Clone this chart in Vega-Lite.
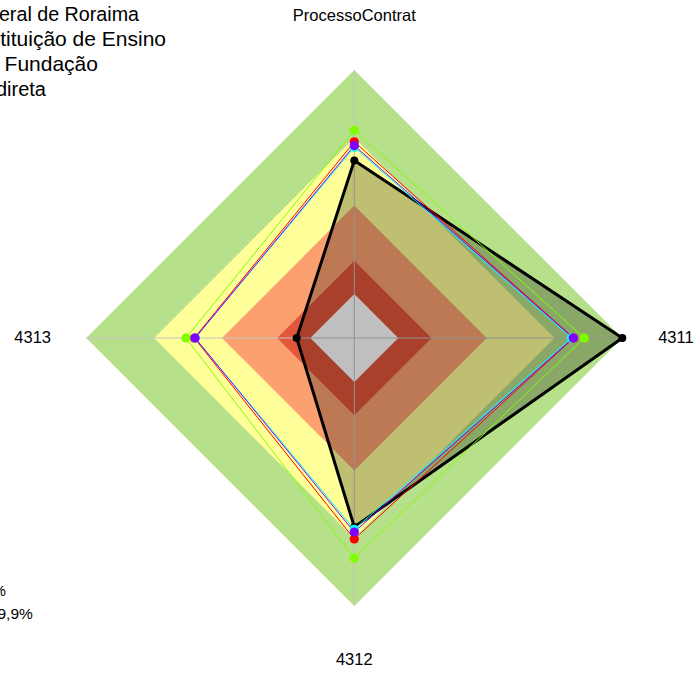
{
  "$schema": "https://vega.github.io/schema/vega-lite/v6.json",
  "width": 696,
  "height": 673,
  "autosize": {"type": "none"},
  "padding": 0,
  "background": "white",
  "config": {"view": {"stroke": null}, "font": "Liberation Sans"},
  "data": {
    "values": [
      {"grupo": "faixa", "nome": "f1", "eixo": "ProcessoContrat", "valor": 1.0},
      {"grupo": "faixa", "nome": "f1", "eixo": "4311", "valor": 1.0},
      {"grupo": "faixa", "nome": "f1", "eixo": "4312", "valor": 1.0},
      {"grupo": "faixa", "nome": "f1", "eixo": "4313", "valor": 1.0},
      {"grupo": "faixa", "nome": "f2", "eixo": "ProcessoContrat", "valor": 0.747},
      {"grupo": "faixa", "nome": "f2", "eixo": "4311", "valor": 0.747},
      {"grupo": "faixa", "nome": "f2", "eixo": "4312", "valor": 0.747},
      {"grupo": "faixa", "nome": "f2", "eixo": "4313", "valor": 0.747},
      {"grupo": "faixa", "nome": "f3", "eixo": "ProcessoContrat", "valor": 0.494},
      {"grupo": "faixa", "nome": "f3", "eixo": "4311", "valor": 0.494},
      {"grupo": "faixa", "nome": "f3", "eixo": "4312", "valor": 0.494},
      {"grupo": "faixa", "nome": "f3", "eixo": "4313", "valor": 0.494},
      {"grupo": "faixa", "nome": "f4", "eixo": "ProcessoContrat", "valor": 0.288},
      {"grupo": "faixa", "nome": "f4", "eixo": "4311", "valor": 0.288},
      {"grupo": "faixa", "nome": "f4", "eixo": "4312", "valor": 0.288},
      {"grupo": "faixa", "nome": "f4", "eixo": "4313", "valor": 0.288},
      {"grupo": "faixa", "nome": "f5", "eixo": "ProcessoContrat", "valor": 0.164},
      {"grupo": "faixa", "nome": "f5", "eixo": "4311", "valor": 0.164},
      {"grupo": "faixa", "nome": "f5", "eixo": "4312", "valor": 0.164},
      {"grupo": "faixa", "nome": "f5", "eixo": "4313", "valor": 0.164},
      {"grupo": "serie", "nome": "IFRR", "eixo": "ProcessoContrat", "valor": 0.662},
      {"grupo": "serie", "nome": "IFRR", "eixo": "4311", "valor": 1.0},
      {"grupo": "serie", "nome": "IFRR", "eixo": "4312", "valor": 0.705},
      {"grupo": "serie", "nome": "IFRR", "eixo": "4313", "valor": 0.215},
      {"grupo": "serie", "nome": "Ensino", "eixo": "ProcessoContrat", "valor": 0.732},
      {"grupo": "serie", "nome": "Ensino", "eixo": "4311", "valor": 0.818},
      {"grupo": "serie", "nome": "Ensino", "eixo": "4312", "valor": 0.75},
      {"grupo": "serie", "nome": "Ensino", "eixo": "4313", "valor": 0.597},
      {"grupo": "serie", "nome": "Fundação", "eixo": "ProcessoContrat", "valor": 0.775},
      {"grupo": "serie", "nome": "Fundação", "eixo": "4311", "valor": 0.858},
      {"grupo": "serie", "nome": "Fundação", "eixo": "4312", "valor": 0.821},
      {"grupo": "serie", "nome": "Fundação", "eixo": "4313", "valor": 0.628},
      {"grupo": "serie", "nome": "Indireta", "eixo": "ProcessoContrat", "valor": 0.712},
      {"grupo": "serie", "nome": "Indireta", "eixo": "4311", "valor": 0.81},
      {"grupo": "serie", "nome": "Indireta", "eixo": "4312", "valor": 0.714},
      {"grupo": "serie", "nome": "Indireta", "eixo": "4313", "valor": 0.594},
      {"grupo": "serie", "nome": "Geral", "eixo": "ProcessoContrat", "valor": 0.718},
      {"grupo": "serie", "nome": "Geral", "eixo": "4311", "valor": 0.817},
      {"grupo": "serie", "nome": "Geral", "eixo": "4312", "valor": 0.724},
      {"grupo": "serie", "nome": "Geral", "eixo": "4313", "valor": 0.594}
    ]
  },
  "transform": [
    {"calculate": "datum.eixo === '4311' ? datum.valor : (datum.eixo === '4313' ? -datum.valor : 0)", "as": "x"},
    {"calculate": "datum.eixo === 'ProcessoContrat' ? datum.valor : (datum.eixo === '4312' ? -datum.valor : 0)", "as": "y"},
    {"calculate": "indexof(['ProcessoContrat','4311','4312','4313'], datum.eixo)", "as": "ordem"}
  ],
  "encoding": {
    "x": {"field": "x", "type": "quantitative", "scale": {"domain": [-1.32201, 1.275], "nice": false, "zero": false}, "axis": null},
    "y": {"field": "y", "type": "quantitative", "scale": {"domain": [-1.25, 1.26119], "nice": false, "zero": false}, "axis": null}
  },
  "layer": [
    {
      "transform": [{"filter": "datum.nome === 'f1'"}],
      "mark": {"type": "line", "interpolate": "linear-closed", "filled": true, "fill": "#B7E08B", "fillOpacity": 1, "strokeWidth": 0},
      "encoding": {"order": {"field": "ordem", "type": "quantitative"}}
    },
    {
      "transform": [{"filter": "datum.nome === 'f2'"}],
      "mark": {"type": "line", "interpolate": "linear-closed", "filled": true, "fill": "#FFFF99", "fillOpacity": 1, "strokeWidth": 0},
      "encoding": {"order": {"field": "ordem", "type": "quantitative"}}
    },
    {
      "transform": [{"filter": "datum.nome === 'f3'"}],
      "mark": {"type": "line", "interpolate": "linear-closed", "filled": true, "fill": "#FCA070", "fillOpacity": 1, "strokeWidth": 0},
      "encoding": {"order": {"field": "ordem", "type": "quantitative"}}
    },
    {
      "transform": [{"filter": "datum.nome === 'f4'"}],
      "mark": {"type": "line", "interpolate": "linear-closed", "filled": true, "fill": "#E2563B", "fillOpacity": 1, "strokeWidth": 0},
      "encoding": {"order": {"field": "ordem", "type": "quantitative"}}
    },
    {
      "transform": [{"filter": "datum.nome === 'f5'"}],
      "mark": {"type": "line", "interpolate": "linear-closed", "filled": true, "fill": "#FFFFFF", "fillOpacity": 1, "strokeWidth": 0},
      "encoding": {"order": {"field": "ordem", "type": "quantitative"}}
    },
    {
      "transform": [{"filter": "datum.nome === 'f1'"}],
      "mark": {"type": "rule", "color": "#C4C4C4", "strokeWidth": 1},
      "encoding": {"x2": {"datum": 0}, "y2": {"datum": 0}}
    },
    {
      "transform": [{"filter": "datum.nome === 'IFRR'"}],
      "mark": {"type": "line", "interpolate": "linear-closed", "filled": true, "fill": "#000000", "fillOpacity": 0.25, "stroke": "#000000", "strokeWidth": 3},
      "encoding": {"order": {"field": "ordem", "type": "quantitative"}}
    },
    {
      "transform": [{"filter": "datum.nome === 'IFRR'"}],
      "mark": {"type": "point", "filled": true, "shape": "circle", "size": 64, "color": "#000000", "opacity": 1}
    },
    {
      "transform": [{"filter": "datum.grupo === 'serie' && datum.nome !== 'IFRR'"}],
      "mark": {"type": "line", "interpolate": "linear-closed", "strokeWidth": 1},
      "encoding": {
        "color": {"field": "nome", "type": "nominal", "scale": {"domain": ["Ensino", "Fundação", "Indireta", "Geral"], "range": ["#FF0000", "#80FF00", "#00FFFF", "#8000FF"]}, "legend": null},
        "order": {"field": "ordem", "type": "quantitative"}
      }
    },
    {
      "transform": [{"filter": "datum.grupo === 'serie' && datum.nome !== 'IFRR'"}],
      "mark": {"type": "point", "filled": true, "shape": "circle", "size": 85, "opacity": 1},
      "encoding": {
        "color": {"field": "nome", "type": "nominal", "scale": {"domain": ["Ensino", "Fundação", "Indireta", "Geral"], "range": ["#FF0000", "#80FF00", "#00FFFF", "#8000FF"]}, "legend": null}
      }
    },
    {
      "transform": [
        {"filter": "datum.nome === 'IFRR'"},
        {"calculate": "datum.eixo === '4311' ? 1.2 : (datum.eixo === '4313' ? -1.2 : 0)", "as": "lx"},
        {"calculate": "datum.eixo === 'ProcessoContrat' ? 1.2 : (datum.eixo === '4312' ? -1.2 : 0)", "as": "ly"}
      ],
      "mark": {"type": "text", "fontSize": 16.5, "align": "center", "baseline": "middle", "color": "#000000"},
      "encoding": {
        "x": {"field": "lx", "type": "quantitative"},
        "y": {"field": "ly", "type": "quantitative"},
        "text": {"field": "eixo"}
      }
    },
    {
      "transform": [{"filter": "datum.nome === 'f1' && datum.eixo === 'ProcessoContrat'"}],
      "mark": {"type": "text", "fontSize": 19.7, "align": "right", "baseline": "middle", "color": "#000000"},
      "encoding": {"x": {"datum": -0.8034}, "y": {"datum": 1.2052}, "text": {"value": "Instituto Federal de Roraima"}}
    },
    {
      "transform": [{"filter": "datum.nome === 'f1' && datum.eixo === 'ProcessoContrat'"}],
      "mark": {"type": "text", "fontSize": 21, "align": "right", "baseline": "middle", "color": "#000000"},
      "encoding": {"x": {"datum": -0.7026}, "y": {"datum": 1.1119}, "text": {"value": "Instituição de Ensino"}}
    },
    {
      "transform": [{"filter": "datum.nome === 'f1' && datum.eixo === 'ProcessoContrat'"}],
      "mark": {"type": "text", "fontSize": 21, "align": "right", "baseline": "middle", "color": "#000000"},
      "encoding": {"x": {"datum": -0.9564}, "y": {"datum": 1.0187}, "text": {"value": "Autarquia ou Fundação"}}
    },
    {
      "transform": [{"filter": "datum.nome === 'f1' && datum.eixo === 'ProcessoContrat'"}],
      "mark": {"type": "text", "fontSize": 20, "align": "right", "baseline": "middle", "color": "#000000"},
      "encoding": {"x": {"datum": -1.1504}, "y": {"datum": 0.9254}, "text": {"value": "Administração Indireta"}}
    },
    {
      "transform": [{"filter": "datum.nome === 'f1' && datum.eixo === 'ProcessoContrat'"}],
      "mark": {"type": "text", "fontSize": 15, "align": "right", "baseline": "middle", "color": "#000000"},
      "encoding": {"x": {"datum": -1.3000}, "y": {"datum": -0.9440}, "text": {"value": "100%"}}
    },
    {
      "transform": [{"filter": "datum.nome === 'f1' && datum.eixo === 'ProcessoContrat'"}],
      "mark": {"type": "text", "fontSize": 15.5, "align": "right", "baseline": "middle", "color": "#000000"},
      "encoding": {"x": {"datum": -1.1996}, "y": {"datum": -1.0299}, "text": {"value": "75% a 99,9%"}}
    }
  ]
}
